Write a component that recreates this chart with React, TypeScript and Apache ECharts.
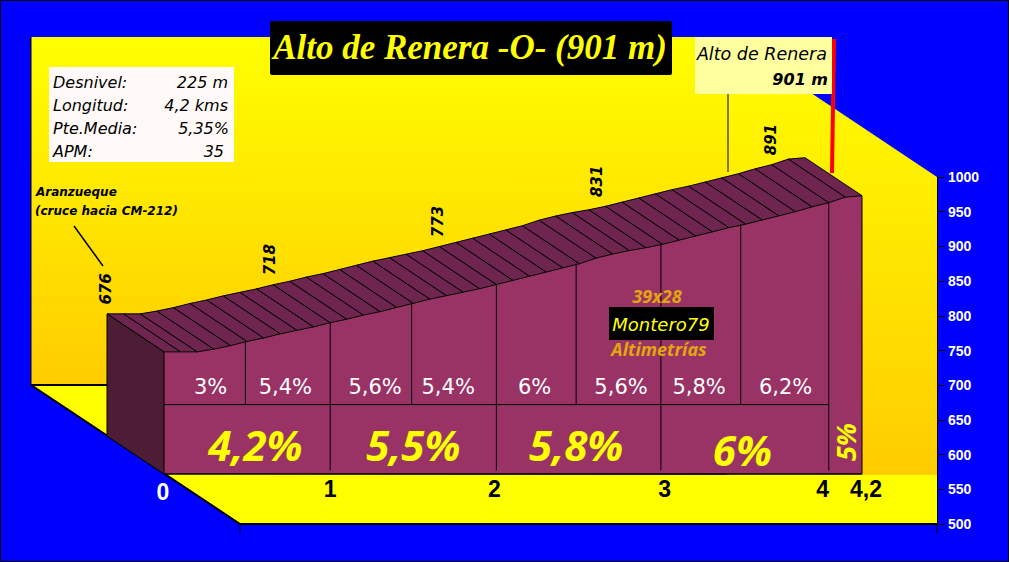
import React, { useEffect, useRef } from "react";
import * as echarts from "echarts";

// ---------- data ----------
const kms = [0, 0.1, 0.2, 0.3, 0.4, 0.5, 0.6, 0.7, 0.8, 0.9, 1, 1.1, 1.2, 1.3, 1.4, 1.5, 1.6, 1.7, 1.8, 1.9, 2, 2.1, 2.2, 2.3, 2.4, 2.5, 2.6, 2.7, 2.8, 2.9, 3, 3.1, 3.2, 3.3, 3.4, 3.5, 3.6, 3.7, 3.8, 3.9, 4, 4.1, 4.2];
const elevations = [676, 676, 676, 680, 685, 691, 696, 702, 707, 712, 718, 723, 729, 734, 740, 746, 752, 757, 762, 767, 773, 779, 785, 791, 797, 803, 811, 817, 822, 826, 831, 837, 843, 849, 855, 860, 866, 872, 878, 885, 891, 899, 901];
const xTickValues = [0, 1, 2, 3, 4, 4.2];
const xTickLabels = ["0", "1", "2", "3", "4", "4,2"];

const halfKmDividers = [0.49, 1.49, 2.48, 3.47];
const fullKmDividers = [1, 2, 2.99, 4];

const milestoneKms = [0, 1, 2, 3, 4];
const milestoneValues = [676, 718, 773, 831, 891];
const milestoneShift = [-1, -3, -1, -9, -1];

const smallGradeKms = [0.28, 0.73, 1.27, 1.71, 2.23, 2.75, 3.22, 3.74];
const smallGrades = ["3%", "5,4%", "5,6%", "5,4%", "6%", "5,6%", "5,8%", "6,2%"];
const bigGradeKms = [0.55, 1.5, 2.48, 3.48];
const bigGradeLevels = [542, 542, 543, 536];
const bigGrades = ["4,2%", "5,5%", "5,8%", "6%"];
const lastGrade = "5%";

const infoLabels = ["Desnivel:", "Longitud:", "Pte.Media:", "APM:"];
const infoValues = ["225 m", "4,2 kms", "5,35%", "35"];

const NOTO = '"Noto Sans", sans-serif';
const DEJA = '"DejaVu Sans", sans-serif';
const FRONT = "#993366";
const TOP = "#6E2650";
const SIDE = "#4D1D36";
const DEPTH: [number, number] = [-57, -38];

const shift = (p: number[]) => [p[0] + DEPTH[0], p[1] + DEPTH[1]];

function frontItem(_p: any, api: any) {
  const n = kms.length - 1;
  const points = kms.map((k, i) => api.coord([k, elevations[i]]));
  points.push(api.coord([kms[n], 500]), api.coord([kms[0], 500]));
  return { type: "polygon", shape: { points }, style: { fill: FRONT } };
}

function profileItem(params: any, api: any) {
  const i = params.dataIndex;
  if (i === kms.length - 1) return { type: "group", children: [] };
  const a = api.coord([kms[i], elevations[i]]);
  const b = api.coord([kms[i + 1], elevations[i + 1]]);
  return {
    type: "polygon",
    shape: { points: [a, b, shift(b), shift(a)] },
    style: { fill: TOP, stroke: "#000", lineWidth: 1 },
  };
}

function frameItem(_p: any, api: any) {
  const top0 = api.coord([0, elevations[0]]);
  const base0 = api.coord([0, 500]);
  const n = kms.length - 1;
  const topN = api.coord([kms[n], elevations[n]]);
  const baseN = api.coord([kms[n], 500]);
  const seg = (p: number[], q: number[], w = 1) => ({
    type: "line",
    shape: { x1: p[0], y1: p[1], x2: q[0], y2: q[1] },
    style: { stroke: "#000", lineWidth: w },
  });
  const valueAt = (k: number) => elevations[Math.min(Math.round(k * 10), n)];
  return {
    type: "group",
    children: [
      { type: "polygon", shape: { points: [top0, shift(top0), shift(base0), base0] }, style: { fill: SIDE, stroke: "#000", lineWidth: 1 } },
      seg(base0, baseN, 1.5),
      seg(topN, baseN),
      seg(api.coord([0, 600]), api.coord([4, 600])),
      ...halfKmDividers.map((k) => seg(api.coord([k, valueAt(k)]), api.coord([k, 600]))),
      ...fullKmDividers.map((k) => seg(api.coord([k, valueAt(k)]), api.coord([k, 505]))),
    ],
  };
}

function textsItem(_p: any, api: any) {
  const tx = (p: number[], text: string, font: string, fill: string, rotation = 0) => ({
    type: "text",
    x: p[0],
    y: p[1],
    rotation,
    style: { text, font, fill, align: "center", verticalAlign: "middle" },
  });
  return {
    type: "group",
    children: [
      ...milestoneKms.map((k, i) => {
        const p = shift(api.coord([k, milestoneValues[i]]));
        return tx([p[0] + milestoneShift[i], p[1] - 25], String(milestoneValues[i]), `italic bold 15px ${DEJA}`, "#000", Math.PI / 2);
      }),
      ...smallGradeKms.map((k, i) => tx(api.coord([k, 625]), smallGrades[i], `21px ${DEJA}`, "#fff")),
      ...bigGradeKms.map((k, i) => tx(api.coord([k, bigGradeLevels[i]]), bigGrades[i], `italic bold 42px ${NOTO}`, "#FFFF00")),
      tx(api.coord([4.1, 546]), lastGrade, `italic bold 27px ${NOTO}`, "#FFFF00", Math.PI / 2),
    ],
  };
}

export default function App() {
  const ref = useRef<HTMLDivElement>(null);
  useEffect(() => {
    document.body.style.margin = "0";
    const chart = echarts.init(ref.current!, undefined, { renderer: "svg" });
    const vgrad = (c0: string, c1: string) =>
      new echarts.graphic.LinearGradient(0, 0, 0, 1, [
        { offset: 0, color: c0 },
        { offset: 1, color: c1 },
      ]);
    const ln = (x1: number, y1: number, x2: number, y2: number, w: number, color = "#000", z = 0) => ({
      type: "line",
      z,
      shape: { x1, y1, x2, y2 },
      style: { stroke: color, lineWidth: w },
    });
    const label = (x: number, y: number, text: string, font: string, fill: string, align = "left", z = 50) => ({
      type: "text",
      x,
      y,
      z,
      style: { text, font, fill, align, verticalAlign: "middle" },
    });
    const infoFont = `italic 16px ${DEJA}`;
    const rowsY = [82, 105, 128, 151];
    const valuesRight = [228, 228, 229, 224];
    const tickFont = { fontFamily: "Liberation Sans", fontWeight: "bold" as const, fontSize: 23 };
    chart.setOption({
      animation: false,
      backgroundColor: "#0000FF",
      grid: [
        { left: 164, right: 147, top: 127, bottom: 88 },
        { left: 240, right: 72, top: 177, bottom: 38 },
      ],
      xAxis: [
        {
          gridIndex: 0,
          type: "value",
          min: 0,
          max: 4.2,
          axisLine: { show: false },
          axisTick: { show: false },
          splitLine: { show: false },
          axisLabel: {
            show: true,
            customValues: xTickValues,
            margin: 3,
            hideOverlap: false,
            formatter: (v: number) => {
              const t = xTickLabels[xTickValues.indexOf(v)];
              if (v === 0) return `{w|${t}}`;
              if (v === 2) return `{two|${t}}`;
              if (v === 3) return `{three|${t}}`;
              if (v === 4) return `{l|${t}}`;
              if (v === 4.2) return `{r|${t}}`;
              return `{b|${t}}`;
            },
            rich: {
              w: { ...tickFont, color: "#fff", padding: [3, 2, 0, 0] },
              b: { ...tickFont, color: "#000" },
              two: { ...tickFont, color: "#000", padding: [0, 4, 0, 0] },
              three: { ...tickFont, color: "#000", padding: [0, 0, 0, 4] },
              l: { ...tickFont, color: "#000", padding: [0, 12, 0, 0] },
              r: { ...tickFont, color: "#000", padding: [0, 0, 0, 8] },
            },
          },
        },
        { gridIndex: 1, type: "value", min: 0, max: 1, show: false },
      ],
      yAxis: [
        { gridIndex: 0, type: "value", min: 500, max: 1000, show: false },
        {
          gridIndex: 1,
          type: "value",
          min: 500,
          max: 1000,
          interval: 50,
          position: "right",
          axisLine: { show: true, onZero: false, lineStyle: { color: "#000", width: 1 } },
          axisTick: { show: true, length: 8, lineStyle: { color: "#000" } },
          splitLine: { show: false },
          axisLabel: {
            color: "#fff",
            fontFamily: "Liberation Sans",
            fontWeight: "bold",
            fontSize: 14,
            margin: 11,
            formatter: (v: number) => String(v),
          },
        },
      ],
      graphic: [
        // walls and floor
        { type: "polygon", z: -10, shape: { points: [[31, 37], [728, 37], [728, 385], [31, 385]] }, style: { fill: vgrad("#FFFF00", "#FFCC00") } },
        { type: "polygon", z: -10, shape: { points: [[727, 37], [937, 177], [937, 475], [727, 475]] }, style: { fill: vgrad("#FFFF00", "#FFCC00") } },
        { type: "polygon", z: -10, shape: { points: [[31, 385], [164, 385], [164, 474], [937, 475], [937, 524], [240, 524]] }, style: { fill: "#FFFF00" } },
        ln(31, 37, 31, 385, 1, "#000", -9),
        ln(31, 385, 110, 385, 2, "#000", -9),
        ln(31, 385, 240, 524, 2, "#000", -9),
        ln(240, 524, 937, 524, 2, "#000", -9),
        ln(240, 524, 240, 533, 1, "#000", -9),
        ln(937, 524, 937, 533, 1, "#000", -9),
        ln(728, 94, 728, 172, 1, "#000", 1),
        ln(834, 39, 832, 173, 4, "#FF0000", 20),
        // leader to the start
        ln(74, 226, 103, 266, 1.5, "#000", 20),
        // page border
        { type: "rect", z: 60, shape: { x: 0.5, y: 0.5, width: 1008, height: 561 }, style: { fill: "none", stroke: "#000", lineWidth: 1 } },
        // title
        { type: "rect", z: 40, shape: { x: 270, y: 21, width: 402, height: 54, r: 2 }, style: { fill: "#000" } },
        label(470, 47, "Alto de Renera -O- (901 m)", 'italic bold 35px "Liberation Serif"', "#FFFF00", "center"),
        // info box
        { type: "rect", z: 40, shape: { x: 49, y: 67, width: 185, height: 95 }, style: { fill: "#FFFAF8" } },
        ...infoLabels.map((t, i) => label(53, rowsY[i], t, infoFont, "#000")),
        ...infoValues.map((t, i) => label(valuesRight[i], rowsY[i], t, infoFont, "#000", "right")),
        // summit box
        { type: "rect", z: 40, shape: { x: 695, y: 37, width: 137, height: 57 }, style: { fill: "#FFFFA0" } },
        label(827, 54, "Alto de Renera", `italic 17.5px ${DEJA}`, "#000", "right"),
        label(828, 79, "901 m", `italic bold 16px ${DEJA}`, "#000", "right"),
        // start note
        label(36, 192, "Aranzueque", `italic bold 12px ${DEJA}`, "#000"),
        label(35, 211, "(cruce hacia CM-212)", `italic bold 12px ${DEJA}`, "#000"),
        // signature
        label(657, 296, "39x28", `italic bold 18px ${NOTO}`, "#E3A70D", "center"),
        { type: "rect", z: 40, shape: { x: 609, y: 307, width: 105, height: 33 }, style: { fill: "#000" } },
        label(661, 324, "Montero79", `italic 18px ${DEJA}`, "#FFFF00", "center"),
        label(659, 349, "Altimetrías", `italic bold 18px ${NOTO}`, "#E3A70D", "center"),
      ],
      series: [
        {
          type: "custom",
          name: "Frente",
          xAxisIndex: 0,
          yAxisIndex: 0,
          clip: false,
          renderItem: frontItem,
          data: [[0, 500]],
          z: 2,
        },
        {
          type: "custom",
          name: "Perfil",
          xAxisIndex: 0,
          yAxisIndex: 0,
          clip: false,
          renderItem: profileItem,
          data: kms.map((k, i) => [k, elevations[i]]),
          z: 3,
        },
        {
          type: "custom",
          name: "Marco",
          xAxisIndex: 0,
          yAxisIndex: 0,
          clip: false,
          renderItem: frameItem,
          data: [[0, 500]],
          z: 4,
        },
        {
          type: "custom",
          name: "Textos",
          xAxisIndex: 0,
          yAxisIndex: 0,
          clip: false,
          renderItem: textsItem,
          data: [[0, 500]],
          z: 5,
        },
      ],
    });
    return () => chart.dispose();
  }, []);
  return <div ref={ref} style={{ position: "fixed", left: 0, top: 0, width: 1009, height: 562 }} />;
}
